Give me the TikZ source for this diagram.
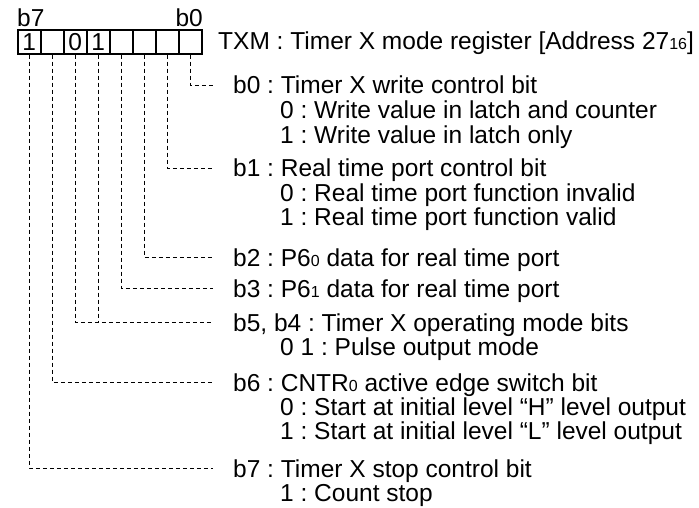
\documentclass[tikz,border=0pt]{standalone}
\usepackage{fontspec}
\setmainfont{Liberation Sans}
\frenchspacing
\newcommand\lowdig[1]{{\fontsize{16}{16}\selectfont #1}}
\tikzset{
  cell/.style={draw, line width=1.6pt, minimum width=23pt, minimum height=24pt,
    inner sep=0pt, anchor=north west},
  desc/.style={inner sep=0pt, anchor=base west},
  leader/.style={dash pattern=on 4pt off 3pt, line width=0.8pt},
}
\begin{document}
\begin{tikzpicture}[x=1pt, y=-1pt, every node/.append style={font=\fontsize{24.5}{26}\selectfont}]
  \useasboundingbox (0,0) rectangle (699,508);
  % register TXM
  \foreach \i/\v in {7/1,6/,5/0,4/1,3/,2/,1/,0/}
    \node[cell] (c\i) at ({17+23*(7-\i)},29) {\v};
  \node[desc] (lb7) at (17,27) {b7};
  \node[desc, anchor=base east] (lb0) at (203,27) {b0};
  \node[desc] (txm) at (218,50) {TXM : Timer X mode register [Address 27\lowdig{16}]};
  % leader ends
  \foreach \b/\y in {0/85,1/168,2/257,3/288,5/322,6/382,7/468}
    \coordinate (e\b) at (213,\y);
  \foreach \b in {0,1,2,3,5,6,7}
    \draw[leader] (c\b.south) |- (e\b);
  \draw[leader] (c4.south) -- (c4.south |- e5);
  % bit descriptions
  \node[desc] (t0) at (233,94) {b0 : Timer X write control bit};
  \node[desc] (t0a) at (280,119) {0 : Write value in latch and counter};
  \node[desc] (t0b) at (280,144) {1 : Write value in latch only};
  \node[desc] (t1) at (233,177) {b1 : Real time port control bit};
  \node[desc] (t1a) at (280,201) {0 : Real time port function invalid};
  \node[desc] (t1b) at (280,225) {1 : Real time port function valid};
  \node[desc] (t2) at (233,266) {b2 : P6\lowdig{0} data for real time port};
  \node[desc] (t3) at (233,297) {b3 : P6\lowdig{1} data for real time port};
  \node[desc] (t5) at (233,331) {b5, b4 : Timer X operating mode bits};
  \node[desc] (t5a) at (280,355) {0 1 : Pulse output mode};
  \node[desc] (t6) at (233,391) {b6 : CNTR\lowdig{0} active edge switch bit};
  \node[desc] (t6a) at (280,415) {0 : Start at initial level “H” level output};
  \node[desc] (t6b) at (280,439) {1 : Start at initial level “L” level output};
  \node[desc] (t7) at (233,477) {b7 : Timer X stop control bit};
  \node[desc] (t7a) at (280,501) {1 : Count stop};
\end{tikzpicture}
\end{document}
